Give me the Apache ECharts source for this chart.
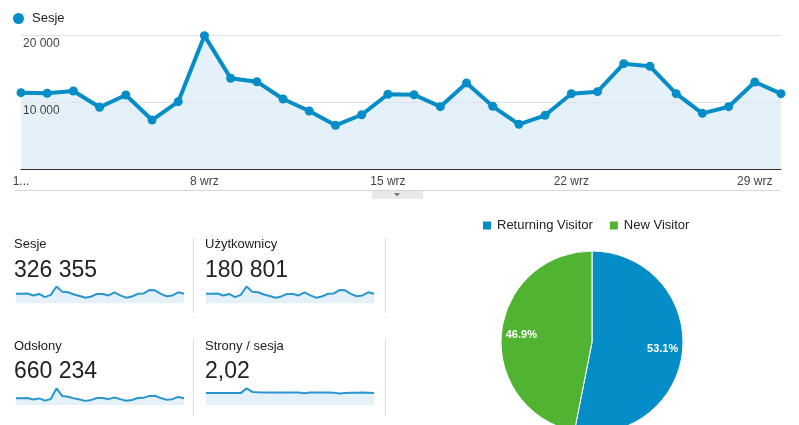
<!DOCTYPE html>
<html>
<head>
<meta charset="utf-8">
<script src="https://cdn.jsdelivr.net/npm/echarts@6/dist/echarts.min.js"></script>
<style>
html,body{margin:0;padding:0;background:#fff;}
#main{width:799px;height:425px;}
</style>
</head>
<body>
<div id="main"></div>
<script>
// ---- data ----
var days = ['1 wrz','2 wrz','3 wrz','4 wrz','5 wrz','6 wrz','7 wrz','8 wrz','9 wrz','10 wrz',
  '11 wrz','12 wrz','13 wrz','14 wrz','15 wrz','16 wrz','17 wrz','18 wrz','19 wrz','20 wrz',
  '21 wrz','22 wrz','23 wrz','24 wrz','25 wrz','26 wrz','27 wrz','28 wrz','29 wrz','30 wrz'];
var sessions = [11390, 11300, 11640, 9210, 11050, 7310, 10050, 19900, 13540, 13030,
  10450, 8660, 6520, 8100, 11150, 11090, 9300, 12840, 9360, 6670,
  8020, 11240, 11540, 15720, 15330, 11240, 8310, 9300, 12990, 11240];
var users = [6380, 6330, 6520, 5160, 6190, 4090, 5630, 11140, 7580, 7300,
  5850, 4850, 3650, 4540, 6240, 6210, 5210, 7190, 5240, 3740,
  4490, 6290, 6460, 8800, 8580, 6290, 4650, 5210, 7270, 6290];
var pageviews = [21870, 21700, 22350, 17680, 21220, 14040, 19300, 53730, 28710, 26710,
  21320, 17670, 13240, 16440, 22520, 22400, 18790, 24400, 18910, 13540,
  16280, 22710, 23080, 29240, 29890, 22260, 16620, 18690, 25980, 22030];
var pagesPerSession = [1.92, 1.92, 1.92, 1.92, 1.92, 1.92, 1.92, 2.70, 2.12, 2.05,
  2.04, 2.04, 2.03, 2.03, 2.02, 2.02, 2.02, 1.90, 2.02, 2.03,
  2.03, 2.02, 2.00, 1.86, 1.95, 1.98, 2.00, 2.01, 2.00, 1.96];
var yTicks = [0, 10000, 20000];
var metricNames = ['Sesje', 'Użytkownicy', 'Odsłony', 'Strony / sesja'];
var metricTotals = ['326 355', '180 801', '660 234', '2,02'];
var visitorTypes = ['Returning Visitor', 'New Visitor'];
var visitorShares = [53.1, 46.9];

// ---- chart ----
var FONT = '"Liberation Sans", Arial, sans-serif';
var BLUE = '#058dc7';
var GREEN = '#50b432';
var FILL = '#e5f1f8';
var SPARK = '#2a96cf';

var chart = echarts.init(document.getElementById('main'), null, {renderer: 'canvas'});

function fmtThousands(v) {
  return String(v).replace(/\B(?=(\d{3})+(?!\d))/g, ' ');
}

var sparkDefs = [
  {data: sessions, left: 16, top: 286.5, width: 168, height: 16.8},
  {data: users, left: 206, top: 286.5, width: 168, height: 16.8},
  {data: pageviews, left: 16, top: 388.3, width: 168, height: 16.7},
  {data: pagesPerSession, left: 206, top: 388.3, width: 168, height: 16.7}
];

var grids = [{left: 21, right: 18, top: 35, bottom: 256, containLabel: false}];
var xAxes = [{
  type: 'category', gridIndex: 0, data: days, boundaryGap: false,
  axisLine: {show: true, lineStyle: {color: '#333', width: 1}},
  axisTick: {show: false},
  axisLabel: {
    interval: 6, margin: 7, color: '#444', fontSize: 12, fontFamily: FONT,
    formatter: function (v, i) { return i === 0 ? '1...' : v; }
  },
  splitLine: {show: false},
  z: 6
}];
var yAxes = [{
  type: 'value', gridIndex: 0, min: yTicks[0], max: yTicks[yTicks.length - 1], interval: yTicks[1] - yTicks[0],
  axisLine: {show: false}, axisTick: {show: false},
  axisLabel: {
    inside: true, margin: 2, color: '#444', fontSize: 12, fontFamily: FONT,
    verticalAlign: 'top', padding: [3, 0, 0, 0],
    formatter: function (v) { return v === 0 ? '' : fmtThousands(v); }
  },
  splitLine: {show: true, lineStyle: {color: '#dde4e8', width: 1}},
  z: 3
}];
var series = [{
  name: 'Sesje (area)', type: 'line', xAxisIndex: 0, yAxisIndex: 0, data: sessions,
  symbol: 'none', silent: true,
  lineStyle: {width: 0, opacity: 0},
  areaStyle: {color: FILL, opacity: 1},
  z: 1
}, {
  name: 'Sesje', type: 'line', xAxisIndex: 0, yAxisIndex: 0, data: sessions,
  symbol: 'circle', symbolSize: 9, showAllSymbol: true,
  lineStyle: {color: BLUE, width: 4},
  itemStyle: {color: BLUE},
  clip: false, z: 5
}];

sparkDefs.forEach(function (s, i) {
  var gi = i + 1;
  grids.push({left: s.left, top: s.top, width: s.width, height: s.height});
  xAxes.push({type: 'category', gridIndex: gi, data: days, boundaryGap: false, show: false});
  yAxes.push({type: 'value', gridIndex: gi, min: 0, max: 'dataMax', show: false, splitLine: {show: false}});
  series.push({
    type: 'line', xAxisIndex: gi, yAxisIndex: gi, data: s.data, symbol: 'none', silent: true,
    lineStyle: {color: SPARK, width: 2},
    areaStyle: {color: FILL, opacity: 1}
  });
});

var pieData = visitorTypes.map(function (n, i) {
  return {name: n, value: visitorShares[i], itemStyle: {color: i === 0 ? BLUE : GREEN}};
});
series.push({
  name: 'Visitor type', type: 'pie', center: [592, 342], radius: 91,
  startAngle: 90, clockwise: true, percentPrecision: 1,
  data: pieData,
  itemStyle: {borderColor: '#fff', borderWidth: 1},
  label: {show: false}, labelLine: {show: false},
  emphasis: {scale: false}
});
series.push({
  name: 'labels', type: 'pie', center: [592, 342], radius: 136,
  startAngle: 90, clockwise: true, percentPrecision: 1, silent: true,
  data: visitorShares.map(function (v) { return {value: v}; }),
  itemStyle: {color: 'rgba(0,0,0,0)'},
  label: {show: true, position: 'inside', formatter: '{d}%', color: '#fff',
    fontSize: 11, fontWeight: 'bold', fontFamily: FONT},
  labelLine: {show: false}, z: 5
});

var graphics = [];
var textPos = [
  {x: 14, ly: 244.5, vy: 270.7},
  {x: 205, ly: 244.5, vy: 270.7},
  {x: 14, ly: 346.5, vy: 372},
  {x: 205, ly: 346.5, vy: 372}
];
metricNames.forEach(function (n, i) {
  var p = textPos[i];
  graphics.push({type: 'text', x: p.x, y: p.ly, style: {text: n, fill: '#222', fontSize: 13, fontFamily: FONT, verticalAlign: 'middle'}});
  graphics.push({type: 'text', x: p.x, y: p.vy, style: {text: metricTotals[i], fill: '#222', fontSize: 23, fontFamily: FONT, verticalAlign: 'middle'}});
});
// separators
[[193.5, 237, 313], [385.5, 237, 313], [193.5, 338, 416], [385.5, 338, 416]].forEach(function (l) {
  graphics.push({type: 'line', shape: {x1: l[0], y1: l[1], x2: l[0], y2: l[2]}, style: {stroke: '#ddd', lineWidth: 1}});
});
graphics.push({type: 'line', shape: {x1: 15, y1: 190.5, x2: 781, y2: 190.5}, style: {stroke: '#d6d6d6', lineWidth: 1}});
graphics.push({type: 'rect', shape: {x: 372, y: 191, width: 51, height: 8}, style: {fill: '#e9e9e9'}});
graphics.push({type: 'polygon', shape: {points: [[394, 193], [400, 193], [397, 196.5]]}, style: {fill: '#777'}});

var option = {
  backgroundColor: '#fff',
  animation: false,
  textStyle: {fontFamily: FONT},
  legend: [{
    data: ['Sesje'], left: 8, top: 7, icon: 'circle', itemWidth: 11, itemHeight: 11, itemGap: 10,
    textStyle: {color: '#222', fontSize: 13, fontFamily: FONT, padding: [0, 0, 0, 3]}, selectedMode: false
  }, {
    data: visitorTypes, left: 476, top: 214, icon: 'rect', itemWidth: 10, itemHeight: 10, itemGap: 15,
    textStyle: {color: '#222', fontSize: 13, fontFamily: FONT}, selectedMode: false
  }],
  grid: grids,
  xAxis: xAxes,
  yAxis: yAxes,
  series: series,
  graphic: graphics
};
chart.setOption(option);
</script>
</body>
</html>
